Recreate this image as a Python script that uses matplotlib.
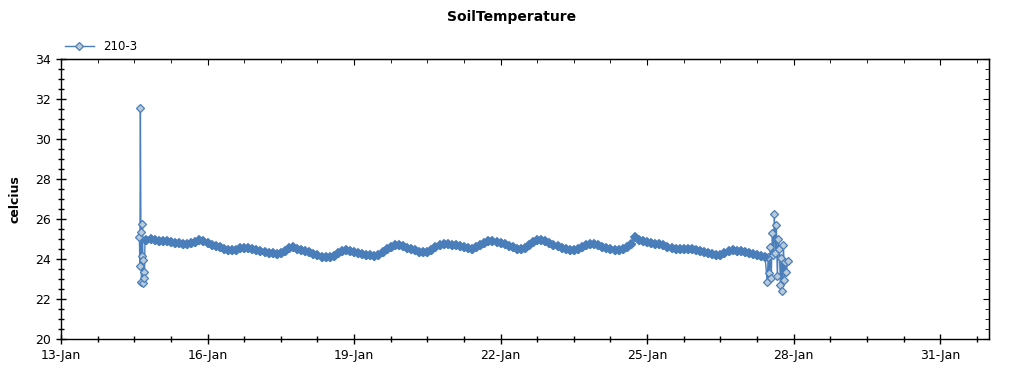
import pandas as pd
import matplotlib.pyplot as plt
import matplotlib.dates as mdates

# --- data (sensor 210-3, soil temperature in celcius) ---
start_times = ['2010-01-14 14:30', '2010-01-14 14:45', '2010-01-14 15:00', '2010-01-14 15:15',
               '2010-01-14 15:30', '2010-01-14 15:45', '2010-01-14 16:00', '2010-01-14 16:15',
               '2010-01-14 16:30', '2010-01-14 16:45', '2010-01-14 17:00', '2010-01-14 17:15']
start_temps = [25.1, 23.67, 31.55, 25.37, 22.83, 24.17, 25.73, 23.95, 22.78, 23.33, 23.07, 24.95]

# regular 2-hourly readings from 14-Jan 18:00 to 27-Jan 10:00
band_start = '2010-01-14 18:00'
band_temps = [
    24.95, 24.98, 24.95,
    24.92, 24.90, 24.88, 24.85, 24.82, 24.79, 24.76, 24.75, 24.78, 24.86, 24.93, 24.88,
    24.80, 24.72, 24.65, 24.58, 24.50, 24.44, 24.43, 24.47, 24.53, 24.57, 24.56, 24.50,
    24.45, 24.38, 24.33, 24.30, 24.28, 24.27, 24.30, 24.40, 24.55, 24.60, 24.52, 24.45,
    24.40, 24.33, 24.25, 24.18, 24.12, 24.08, 24.08, 24.15, 24.28, 24.38, 24.43, 24.40,
    24.35, 24.30, 24.25, 24.21, 24.18, 24.16, 24.22, 24.35, 24.50, 24.62, 24.69, 24.68,
    24.64, 24.57, 24.50, 24.43, 24.37, 24.33, 24.35, 24.45, 24.58, 24.68, 24.73, 24.74,
    24.72, 24.68, 24.63, 24.58, 24.53, 24.52, 24.58, 24.70, 24.82, 24.90, 24.92, 24.87,
    24.80, 24.73, 24.65, 24.58, 24.52, 24.50, 24.55, 24.70, 24.85, 24.95, 24.95, 24.88,
    24.80, 24.72, 24.63, 24.55, 24.48, 24.44, 24.45, 24.52, 24.62, 24.70, 24.75, 24.74,
    24.70, 24.62, 24.55, 24.48, 24.44, 24.43, 24.48, 24.58, 24.75, 25.12, 24.95, 24.88,
    24.85, 24.80, 24.76, 24.73, 24.68, 24.62, 24.57, 24.52, 24.50, 24.50, 24.50, 24.48,
    24.45, 24.40, 24.35, 24.30, 24.24, 24.20, 24.22, 24.32, 24.42, 24.45, 24.42, 24.38,
    24.33, 24.28, 24.25, 24.20, 24.13, 24.08,
]

end_times = ['2010-01-27 11:00', '2010-01-27 11:30', '2010-01-27 12:00', '2010-01-27 12:30',
             '2010-01-27 13:00', '2010-01-27 13:30', '2010-01-27 14:00', '2010-01-27 14:30',
             '2010-01-27 15:00', '2010-01-27 15:30', '2010-01-27 16:00', '2010-01-27 16:30',
             '2010-01-27 17:00', '2010-01-27 17:30', '2010-01-27 18:00', '2010-01-27 18:30',
             '2010-01-27 19:00', '2010-01-27 19:30', '2010-01-27 20:00', '2010-01-27 20:30',
             '2010-01-27 21:00']
end_temps = [22.87, 24.1, 23.3, 24.6, 23.03, 25.3, 24.2, 26.25, 24.28, 25.7, 23.13,
             25.0, 24.48, 22.7, 24.05, 22.42, 24.7, 22.95, 23.87, 23.37, 23.9]

# --- assemble the series ---
band_times = pd.date_range(band_start, periods=len(band_temps), freq='2h')
times = list(pd.to_datetime(start_times)) + list(band_times) + list(pd.to_datetime(end_times))
temps = start_temps + band_temps + end_temps
series = pd.Series(temps, index=pd.DatetimeIndex(times))

line_color = '#4a7ebb'
face_color = '#b9cad9'

fig = plt.figure(figsize=(10.24, 3.75), dpi=100)
ax = fig.add_axes([0.0596, 0.096, 0.9062, 0.7467])

ax.plot(series.index, series.values, color=line_color, linewidth=1.0,
        marker='D', markersize=4.2, markerfacecolor=face_color,
        markeredgecolor=line_color, markeredgewidth=0.9, label='210-3')
# the steady part is so densely sampled that the marker outlines merge into a solid band
ax.plot(band_times, band_temps, linestyle='none', marker='D', markersize=4.5,
        markerfacecolor=line_color, markeredgecolor=line_color, markeredgewidth=1.3)

# axis limits and ticks
x0 = pd.Timestamp('2010-01-13')
x1 = pd.Timestamp('2010-02-01')
ax.set_xlim(x0, x1)
ax.set_ylim(20, 34)

major_x = pd.date_range(x0, '2010-01-31', freq='3D')
minor_x = pd.date_range(x0, x1, freq='18h')
ax.set_xticks(major_x)
ax.set_xticks(minor_x, minor=True)
ax.xaxis.set_major_formatter(mdates.DateFormatter('%d-%b'))
ax.set_yticks(range(20, 35, 2))
ax.set_yticks([v / 2 for v in range(40, 69)], minor=True)

ax.tick_params(which='major', direction='inout', length=7, width=1, labelsize=9)
ax.tick_params(which='minor', direction='inout', length=4.5, width=1)
ax.tick_params(axis='x', pad=4)

# inward-only ticks on the top and right sides
top = ax.secondary_xaxis('top')
top.set_xticks(major_x)
top.set_xticks(minor_x, minor=True)
top.tick_params(which='major', direction='in', length=4.5, labeltop=False)
top.tick_params(which='minor', direction='in', length=3, labeltop=False)
right = ax.secondary_yaxis('right')
right.set_yticks(range(20, 35, 2))
right.set_yticks([v / 2 for v in range(40, 69)], minor=True)
right.tick_params(which='major', direction='in', length=4.5, labelright=False)
right.tick_params(which='minor', direction='in', length=3, labelright=False)

for spine in ax.spines.values():
    spine.set_linewidth(1)

ax.set_ylabel('celcius', fontsize=9, fontweight='bold', labelpad=10)
fig.suptitle('SoilTemperature', fontsize=10, fontweight='bold', y=0.972)

ax.legend(loc='lower left', bbox_to_anchor=(-0.003, 0.995), frameon=False,
          fontsize=8.5, handlelength=2.4, numpoints=1, borderaxespad=0.2)

fig.savefig('out.png', dpi=100)
